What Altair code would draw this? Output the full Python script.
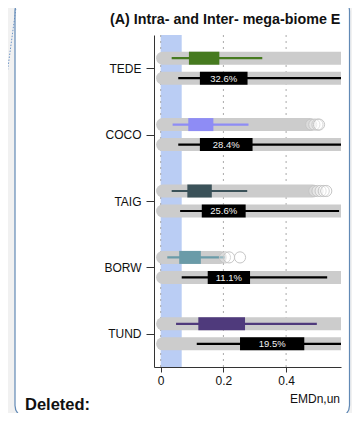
import altair as alt
import pandas as pd

# ---------------- data ----------------
categories = ["TEDE", "COCO", "TAIG", "BORW", "TUND"]

intra_min = [0.006, 0.006, 0.006, 0.006, 0.006]
intra_max = [0.75, 0.475, 0.485, 0.19, 0.75]
intra_lo = [0.035, 0.038, 0.035, 0.021, 0.049]
intra_q1 = [0.090, 0.088, 0.085, 0.059, 0.120]
intra_q3 = [0.187, 0.168, 0.163, 0.128, 0.269]
intra_hi = [0.324, 0.280, 0.276, 0.205, 0.498]

inter_min = [0.006, 0.006, 0.006, 0.006, 0.006]
inter_max = [0.75, 0.75, 0.75, 0.75, 0.75]
inter_lo = [0.056, 0.056, 0.062, 0.067, 0.115]
inter_q1 = [0.125, 0.125, 0.131, 0.150, 0.253]
inter_q3 = [0.277, 0.293, 0.271, 0.285, 0.458]
inter_hi = [0.65, 0.65, 0.569, 0.531, 0.65]
inter_pct = ["32.6%", "28.4%", "25.6%", "11.1%", "19.5%"]

outlier_cat = ["COCO", "COCO", "COCO", "COCO",
               "TAIG", "TAIG", "TAIG", "TAIG", "TAIG",
               "BORW", "BORW", "BORW"]
outlier_val = [0.48, 0.49, 0.50, 0.505,
               0.49, 0.50, 0.51, 0.52, 0.528,
               0.205, 0.218, 0.253]

x_ticks = [0, 0.2, 0.4]
band_lo = [0.0]
band_hi = [0.067]

title_text = "(A) Intra- and Inter- mega-biome E"
x_title_text = "EMDn,un"
note_text = "Deleted:"

# ---------------- styles ----------------
box_colors = ["#467a1f", "#8e8cf5", "#3b5259", "#6a9ba8", "#4f3a7c"]
inter_color = "#000000"
FONT = "Liberation Sans"

# ---------------- tables ----------------
rows = []
for i, c in enumerate(categories):
    rows.append(dict(cat=c, idx=i, row="intra", series=c,
                     gmin=intra_min[i], gmax=intra_max[i], lo=intra_lo[i],
                     q1=intra_q1[i], q3=intra_q3[i], hi=intra_hi[i], label=""))
    rows.append(dict(cat=c, idx=i, row="inter", series="ALL",
                     gmin=inter_min[i], gmax=inter_max[i], lo=inter_lo[i],
                     q1=inter_q1[i], q3=inter_q3[i], hi=inter_hi[i],
                     label=inter_pct[i]))
df = pd.DataFrame(rows)

df_out = pd.DataFrame({"cat": outlier_cat, "val": outlier_val})
df_out["idx"] = [categories.index(c) for c in outlier_cat]
df_out["row"] = "intra"

df_grid = pd.DataFrame({"g": x_ticks})
df_band = pd.DataFrame({"b0": band_lo, "b1": band_hi})
one = pd.DataFrame({"k": [0]})

ROW_OFF = 0.1506
ypos_expr = f"datum.idx + (datum.row == 'inter' ? {ROW_OFF} : -{ROW_OFF})"

xscale = alt.Scale(domain=[-0.02137, 0.5751], nice=False, zero=False)
yscale = alt.Scale(domain=[-0.5, 4.5], reverse=True, nice=False, zero=False)

label_expr = "[" + ",".join(f"'{c}'" for c in categories) + "][datum.value]"

x_axis = alt.Axis(values=x_ticks, format="~g", tickSize=5, labelPadding=3,
                  grid=False, title=None, domainColor="#333333",
                  tickColor="#333333", labelFontSize=12, labelColor="#111111",
                  labelFont=FONT, zindex=1)
y_axis = alt.Axis(values=list(range(len(categories))), labelExpr=label_expr,
                  tickSize=8, labelPadding=5, grid=False, title=None,
                  domainColor="#333333", tickColor="#333333",
                  labelFontSize=12, labelColor="#111111", labelFont=FONT,
                  zindex=1)

color_enc = alt.Color("series:N",
                      scale=alt.Scale(domain=categories + ["ALL"],
                                      range=box_colors + [inter_color]),
                      legend=None)

base = alt.Chart(df).transform_calculate(ypos=ypos_expr)
Y = alt.Y("ypos:Q", scale=yscale, axis=y_axis)

# ---------------- decorative frame ----------------
frame_fill = alt.Chart(one).mark_rect(fill="white", cornerRadius=12).encode(
    x=alt.value(-139), x2=alt.value(195.5),
    y=alt.value(-36), y2=alt.value(382.5))

connector = alt.Chart(one).mark_rule(color="#6f96c8", strokeWidth=1,
                                     strokeDash=[1.5, 1.5]).encode(
    x=alt.value(-137), x2=alt.value(-150),
    y=alt.value(-35), y2=alt.value(62))

# ---------------- plot layers ----------------
band = alt.Chart(df_band).mark_rect(color="#bacdf4").encode(
    x=alt.X("b0:Q", scale=xscale, axis=x_axis), x2="b1:Q")

grid = alt.Chart(df_grid).mark_rule(color="#aaaaaa", strokeWidth=1,
                                    strokeDash=[2, 4]).encode(
    x=alt.X("g:Q", scale=xscale, axis=x_axis))

capsules = base.mark_rule(strokeWidth=13, strokeCap="round",
                          color="#cccccc", clip=True).encode(
    x=alt.X("gmin:Q", scale=xscale, axis=x_axis), x2="gmax:Q", y=Y)

whiskers = base.mark_rule(strokeWidth=2.2, clip=True).encode(
    x=alt.X("lo:Q", scale=xscale, axis=x_axis), x2="hi:Q", y=Y,
    color=color_enc)

boxes = base.mark_rule(strokeWidth=13, strokeCap="butt", clip=True).encode(
    x=alt.X("q1:Q", scale=xscale, axis=x_axis), x2="q3:Q", y=Y,
    color=color_enc)

outliers = alt.Chart(df_out).transform_calculate(ypos=ypos_expr).mark_point(
    shape="circle", size=125, stroke="#c6c6c6", strokeWidth=1,
    fill="white", fillOpacity=0.3, clip=True).encode(
    x=alt.X("val:Q", scale=xscale, axis=x_axis), y=Y)

pct = base.transform_filter("datum.row == 'inter'").transform_calculate(
    mid="(datum.q1 + datum.q3) / 2").mark_text(
    color="#f2f2f2", fontSize=9.5, font=FONT, baseline="middle",
    align="center", dy=0.5).encode(
    x=alt.X("mid:Q", scale=xscale, axis=x_axis), y=Y, text="label:N")

# ---------------- texts ----------------
title = alt.Chart(one).mark_text(text=title_text, font=FONT, fontSize=14.3,
                                 fontWeight="bold", color="#111111",
                                 align="left", baseline="alphabetic").encode(
    x=alt.value(-44), y=alt.value(-11.5))

x_title = alt.Chart(one).mark_text(text=x_title_text, font=FONT, fontSize=12,
                                   color="#111111", align="left",
                                   baseline="alphabetic").encode(
    x=alt.value(136), y=alt.value(367.5))

note = alt.Chart(one).mark_text(text=note_text, font=FONT, fontSize=16.5,
                                fontWeight="bold", color="#111111",
                                align="left", baseline="alphabetic").encode(
    x=alt.value(-129), y=alt.value(374.5))

# ---------------- overlays that crop the right side ----------------
white_cover = alt.Chart(one).mark_rect(fill="white").encode(
    x=alt.value(187), x2=alt.value(195), y=alt.value(-25), y2=alt.value(369))

gray_cover = alt.Chart(one).mark_rect(fill="#f1f1f1").encode(
    x=alt.value(196.1), x2=alt.value(210), y=alt.value(-40), y2=alt.value(390))

frame_stroke = alt.Chart(one).mark_rect(fillOpacity=0, stroke="#6189b5",
                                        strokeWidth=1.2, cornerRadius=12).encode(
    x=alt.value(-139), x2=alt.value(195.5),
    y=alt.value(-36), y2=alt.value(382.5))

chart = alt.layer(
    frame_fill, connector, band, grid, capsules, whiskers, boxes, outliers,
    pct, title, x_title, note, white_cover, gray_cover, frame_stroke
).properties(
    width=187, height=332,
    autosize=alt.AutoSizeParams(type="none"),
    padding={"left": 146, "top": 27, "right": 11, "bottom": 46},
    background="#f1f1f1",
).configure_view(strokeWidth=0)

chart.save("out.html", embed_options={"renderer": "svg", "actions": False})
